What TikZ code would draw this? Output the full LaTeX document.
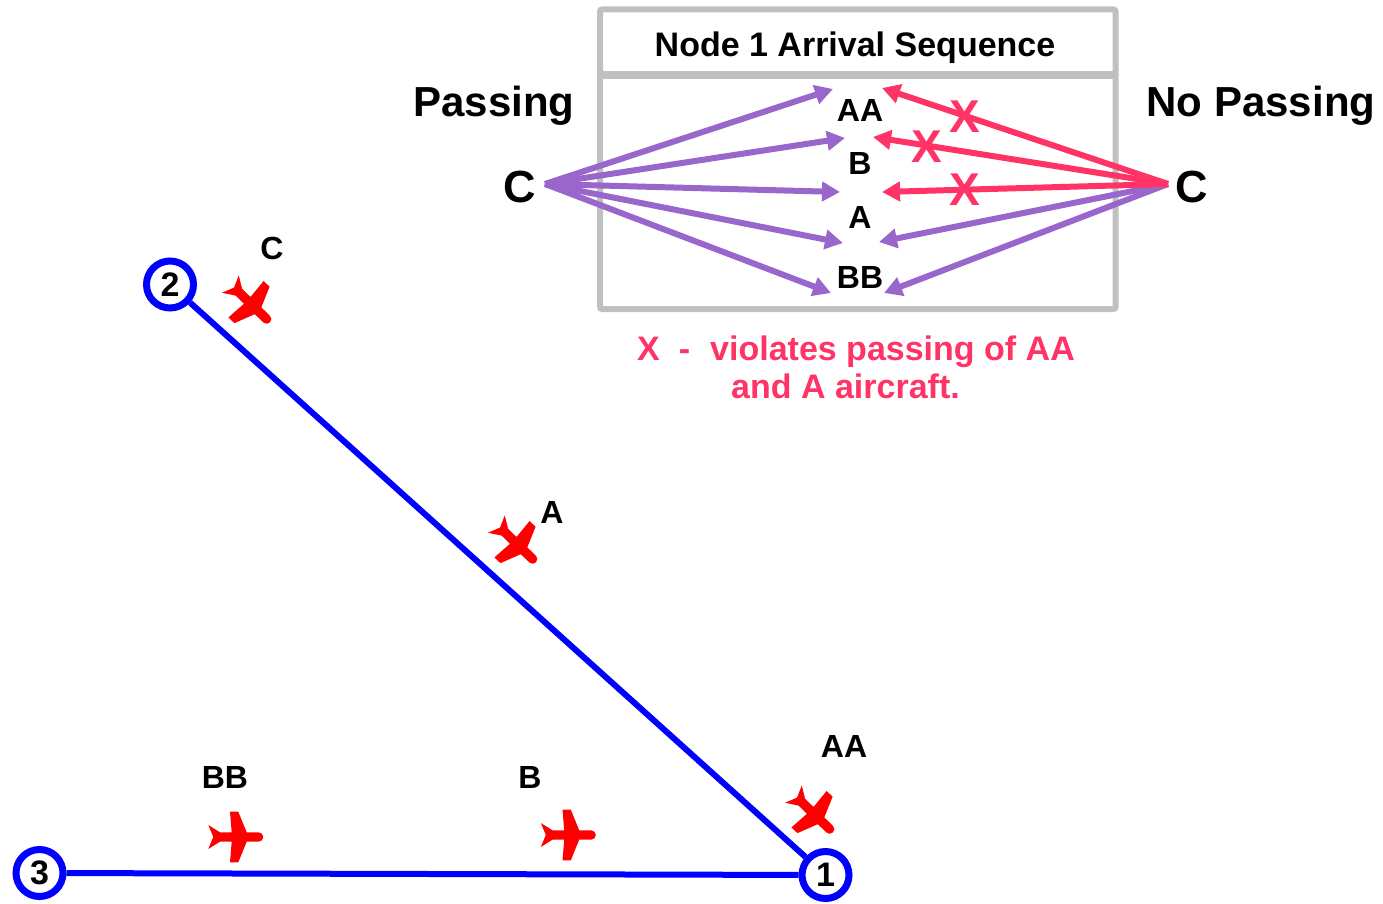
\documentclass[tikz,border=0pt]{standalone}
\usepackage{fontspec}
\setmainfont{Liberation Sans}
\usetikzlibrary{arrows.meta}
\definecolor{purp}{HTML}{9966CC}
\definecolor{pinkred}{HTML}{FF3366}
\definecolor{boxgray}{HTML}{C0C0C0}
\definecolor{planered}{HTML}{FF0000}
\definecolor{netblue}{HTML}{0000FF}
\begin{document}
\begin{tikzpicture}[x=1pt,y=-1pt,
  lbl/.style={font=\bfseries\fontsize{32}{36}\selectfont, inner sep=0pt, anchor=base},
  big/.style={font=\bfseries\fontsize{42}{48}\selectfont, inner sep=0pt, anchor=base},
  bigc/.style={font=\bfseries\fontsize{45}{50}\selectfont, inner sep=0pt, anchor=base},
  redtxt/.style={font=\bfseries\fontsize{34}{38}\selectfont, text=pinkred, inner sep=0pt, anchor=base west},
  netnode/.style={circle, draw=netblue, line width=7pt, minimum size=47pt, inner sep=0pt, fill=white, font=\bfseries\fontsize{34}{36}\selectfont},
  netline/.style={draw=netblue, line width=6pt},
  parrow/.style={draw=purp, line width=6pt, -{Triangle[length=18pt,width=19pt]}},
  rarrow/.style={draw=pinkred, line width=6pt, -{Triangle[length=18pt,width=19pt]}},
  xmark/.style={font=\bfseries\fontsize{46}{50}\selectfont, text=pinkred, inner sep=0pt},
  boxline/.style={draw=boxgray, line width=6pt},
  pics/plane/.style={code={
    \fill[planered] (-22.2,0) -- (-27.2,-12) -- (-15.5,-4.7) -- (-3.8,-4.7) -- (-5.5,-25.3)
      -- (2.8,-25.3) -- (11.2,-4.7) -- (23.1,-4.7) arc[start angle=-90,end angle=90,radius=4.7]
      -- (11.2,4.7) -- (2.8,25.3) -- (-5.5,25.3) -- (-3.8,4.7) -- (-15.5,4.7) -- (-27.2,12) -- cycle;
  }}
]
\useasboundingbox (0,0) rectangle (1383,904);

% sequence box
\draw[boxline, rounded corners=2pt] (600,9.5) rectangle (1115.5,309);
\draw[draw=boxgray, line width=8pt] (600,75.5) -- (1115.5,75.5);
\node[font=\bfseries\fontsize{34}{38}\selectfont, inner sep=0pt, anchor=base] (hdr) at (855,57) {Node 1 Arrival Sequence};

\node[big] (pass) at (494,117) {Passing};
\node[big] (nopass) at (1261,117) {No Passing};
\node[bigc] (cl) at (519.5,202) {C};
\node[bigc] (cr) at (1191.5,202) {C};

\node[lbl] (sAA) at (860,122) {AA};
\node[lbl] (sB) at (860,175) {B};
\node[lbl] (sA) at (860,228) {A};
\node[lbl] (sBB) at (860,288) {BB};

\coordinate (cP) at (545,184);
\coordinate (cN) at (1168,184);
\coordinate (tAA) at (833,89);
\coordinate (tB) at (845,138);
\coordinate (tA) at (840,192);
\coordinate (tA2) at (843,243);
\coordinate (tBB) at (831,293);
\coordinate (rAA) at (882,88);
\coordinate (rB) at (873,137);
\coordinate (rA) at (882,192);
\coordinate (rA2) at (879,242);
\coordinate (rBB) at (884,293);

\draw[parrow] (cP) -- (tAA);
\draw[parrow] (cP) -- (tB);
\draw[parrow] (cP) -- (tA);
\draw[parrow] (cP) -- (tA2);
\draw[parrow] (cP) -- (tBB);
\draw[parrow] (cN) -- (rA2);
\draw[parrow] (cN) -- (rBB);
\draw[rarrow] (cN) -- (rAA);
\draw[rarrow] (cN) -- (rB);
\draw[rarrow] (cN) -- (rA);

% X marks
\node[xmark] (x1) at (965,117) {X};
\node[xmark] (x2) at (927,147) {X};
\node[xmark] (x3) at (965,190) {X};

\node[redtxt] (note1) at (637,360) {X\hspace{19pt}-\hspace{20pt}violates passing of AA};
\node[redtxt] (note2) at (731,398) {and A aircraft.};

% network
\node[netnode] (n1) at (825.5,875) {1};
\node[netnode] (n2) at (170,284.5) {2};
\node[netnode] (n3) at (39.5,873) {3};
\draw[netline] (n3) -- (n1);
\draw[netline] (n2) -- (n1);

% aircraft
\pic[rotate=-44] at (250,303) {plane};
\pic[rotate=-44] at (516,543) {plane};
\pic[rotate=-44] at (813,813) {plane};
\pic at (568,835) {plane};
\pic at (235.5,837) {plane};

\node[lbl] (lC) at (272,259) {C};
\node[lbl] (lA) at (552,523) {A};
\node[lbl] (lAA) at (844,757) {AA};
\node[lbl] (lBB) at (225,788) {BB};
\node[lbl] (lB) at (530,788) {B};
\end{tikzpicture}
\end{document}
